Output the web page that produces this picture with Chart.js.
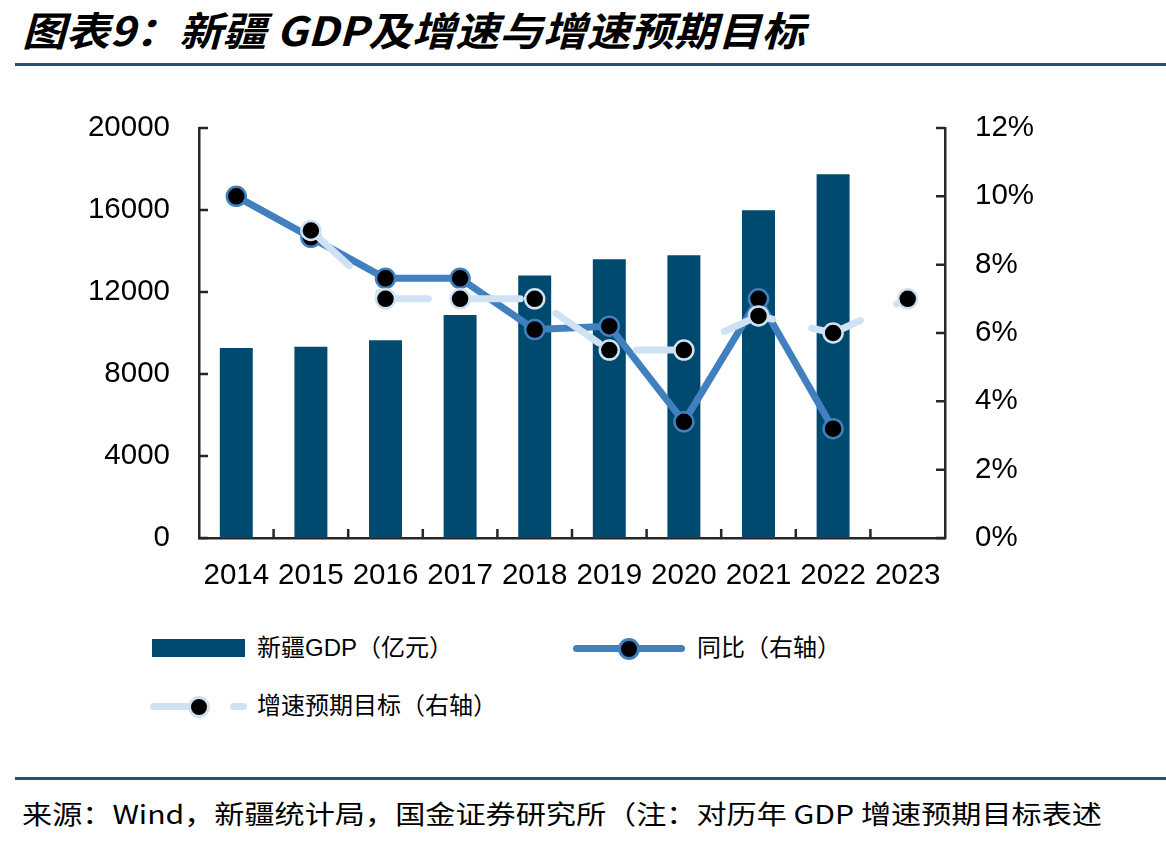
<!DOCTYPE html>
<html lang="zh">
<head>
<meta charset="UTF-8" />
<title>新疆 GDP及增速与增速预期目标</title>
<script src="https://cdn.jsdelivr.net/npm/chart.js"></script>
<style>
  html, body { margin: 0; padding: 0; background: #fff; }
  body { width: 1166px; height: 844px; position: relative; overflow: hidden;
         font-family: "Liberation Sans", "Noto Sans CJK SC", sans-serif; color: #000; }
  .abs { position: absolute; white-space: nowrap; }
  #title { left: 22px; top: 4px; font-size: 40px; font-weight: bold; font-style: italic;
           font-family: "Noto Sans CJK SC", sans-serif; line-height: 50px; transform-origin: 0 50%; }
  .rule { left: 15px; width: 1151px; height: 3px; background: #205374; }
  #chartBox { left: 0; top: 90px; width: 1166px; height: 520px; }
  .legtext { font-size: 24px; line-height: 30px; }
  #source { left: 22px; top: 796px; font-size: 26px; line-height: 34px;
            font-family: "Noto Sans CJK SC", sans-serif; }
</style>
</head>
<body>
<div id="title" class="abs">图表9：新疆 GDP及增速与增速预期目标</div>
<div class="abs rule" style="top:63px"></div>

<div id="chartBox" class="abs"><canvas id="gdpChart" width="1166" height="520"></canvas></div>

<!-- legend -->
<div class="abs" style="left:152px;top:639px;width:93px;height:18px;background:#004A70"></div>
<div class="abs legtext" style="left:257px;top:633px">新疆GDP（亿元）</div>

<div class="abs" style="left:573px;top:645px;width:112px;height:7px;border-radius:4px;background:#4080BF"></div>
<div class="abs" style="left:618px;top:638px;width:16px;height:16px;border-radius:50%;background:#000;border:3px solid #4080BF"></div>
<div class="abs legtext" style="left:697px;top:633px">同比（右轴）</div>

<div class="abs" style="left:150px;top:703px;width:55px;height:7px;border-radius:4px;background:#CFE2F3"></div>
<div class="abs" style="left:188px;top:696px;width:16px;height:16px;border-radius:50%;background:#000;border:3px solid #CFE2F3"></div>
<div class="abs" style="left:230px;top:703px;width:17px;height:7px;border-radius:4px;background:#CFE2F3"></div>
<div class="abs legtext" style="left:257px;top:691px">增速预期目标（右轴）</div>

<div class="abs rule" style="top:777px"></div>
<div id="source" class="abs">来源：Wind，新疆统计局，国金证券研究所（注：对历年 GDP 增速预期目标表述</div>

<script>
  // data
  const years = ['2014', '2015', '2016', '2017', '2018', '2019', '2020', '2021', '2022', '2023'];
  const gdp = [9273, 9325, 9650, 10882, 12809, 13597, 13798, 15984, 17741, null];   // 亿元
  const yoy = [10.0, 8.8, 7.6, 7.6, 6.1, 6.2, 3.4, 7.0, 3.2, null];                 // %
  const target = [null, 9.0, 7.0, 7.0, 7.0, 5.5, 5.5, 6.5, 6.0, 7.0];              // %

  const BAR = '#004A70';
  const BLUE = '#4080BF';
  const LIGHT = '#CFE2F3';
  const AXIS = '#262626';
  const tickFont = { family: "'Liberation Sans', Arial, sans-serif", size: 29.5 };

  // short tick marks pointing into the plot
  const innerTicks = {
    id: 'innerTicks',
    afterDraw(chart) {
      const ctx = chart.ctx;
      const { x, y, y1 } = chart.scales;
      const len = 9;
      ctx.save();
      ctx.strokeStyle = AXIS;
      ctx.lineWidth = 2.5;
      ctx.beginPath();
      y.ticks.forEach(t => {
        const py = y.getPixelForValue(t.value);
        ctx.moveTo(y.right, py); ctx.lineTo(y.right + len, py);
      });
      y1.ticks.forEach(t => {
        const py = y1.getPixelForValue(t.value);
        ctx.moveTo(y1.left, py); ctx.lineTo(y1.left - len, py);
      });
      for (let i = 1; i < years.length; i++) {
        const px = (x.getPixelForTick(i - 1) + x.getPixelForTick(i)) / 2;
        ctx.moveTo(px, x.top); ctx.lineTo(px, x.top - len);
      }
      ctx.stroke();
      ctx.restore();
    }
  };

  // fixed axis sizes so the plot box lands where the reference has it
  function fixY(width) {
    return s => { s.width = width; s.paddingTop = 0; s.paddingBottom = 0; };
  }

  new Chart(document.getElementById('gdpChart'), {
    data: {
      labels: years,
      datasets: [
        {
          type: 'line',
          label: '增速预期目标（右轴）',
          data: target,
          yAxisID: 'y1',
          order: 1,
          borderColor: LIGHT,
          borderWidth: 7,
          borderDash: [52, 40],
          borderCapStyle: 'round',
          borderJoinStyle: 'round',
          pointRadius: 9.5,
          pointBorderWidth: 2.5,
          pointBackgroundColor: '#000',
          pointBorderColor: LIGHT,
          tension: 0
        },
        {
          type: 'line',
          label: '同比（右轴）',
          data: yoy,
          yAxisID: 'y1',
          order: 2,
          borderColor: BLUE,
          borderWidth: 7,
          borderCapStyle: 'round',
          borderJoinStyle: 'round',
          pointRadius: 9.5,
          pointBorderWidth: 2.5,
          pointBackgroundColor: '#000',
          pointBorderColor: BLUE,
          tension: 0
        },
        {
          type: 'bar',
          label: '新疆GDP（亿元）',
          data: gdp,
          yAxisID: 'y',
          order: 3,
          backgroundColor: BAR,
          categoryPercentage: 1,
          barPercentage: 0.442
        }
      ]
    },
    options: {
      responsive: false,
      animation: false,
      layout: { padding: { top: 38, left: 0, right: 0, bottom: 0 } },
      plugins: { legend: { display: false }, tooltip: { enabled: false } },
      scales: {
        x: {
          offset: true,
          grid: { display: false, drawTicks: false },
          border: { display: true, color: AXIS, width: 2.5 },
          ticks: { font: tickFont, color: '#000', padding: 20, maxRotation: 0, autoSkip: false },
          afterFit: s => { s.height = 72; s.paddingLeft = 0; s.paddingRight = 0; }
        },
        y: {
          position: 'left',
          min: 0, max: 20000,
          grid: { display: false, drawTicks: false },
          border: { display: true, color: AXIS, width: 2.5 },
          ticks: { stepSize: 4000, font: tickFont, color: '#000', padding: 29,
                   callback: v => String(v) },
          afterFit: fixY(199)
        },
        y1: {
          position: 'right',
          min: 0, max: 12,
          grid: { display: false, drawTicks: false },
          border: { display: true, color: AXIS, width: 2.5 },
          ticks: { stepSize: 2, font: tickFont, color: '#000', padding: 30,
                   callback: v => v + '%' },
          afterFit: fixY(221)
        }
      }
    },
    plugins: [innerTicks]
  });

  // stretch title and source lines to the widths seen in the reference
  function fitWidth(el, w) {
    const natural = el.getBoundingClientRect().width;
    if (natural > 0) el.style.transform = 'scaleX(' + (w / natural) + ')';
    el.style.transformOrigin = '0 50%';
  }
  fitWidth(document.getElementById('title'), 783);
  fitWidth(document.getElementById('source'), 1080);
</script>
</body>
</html>
